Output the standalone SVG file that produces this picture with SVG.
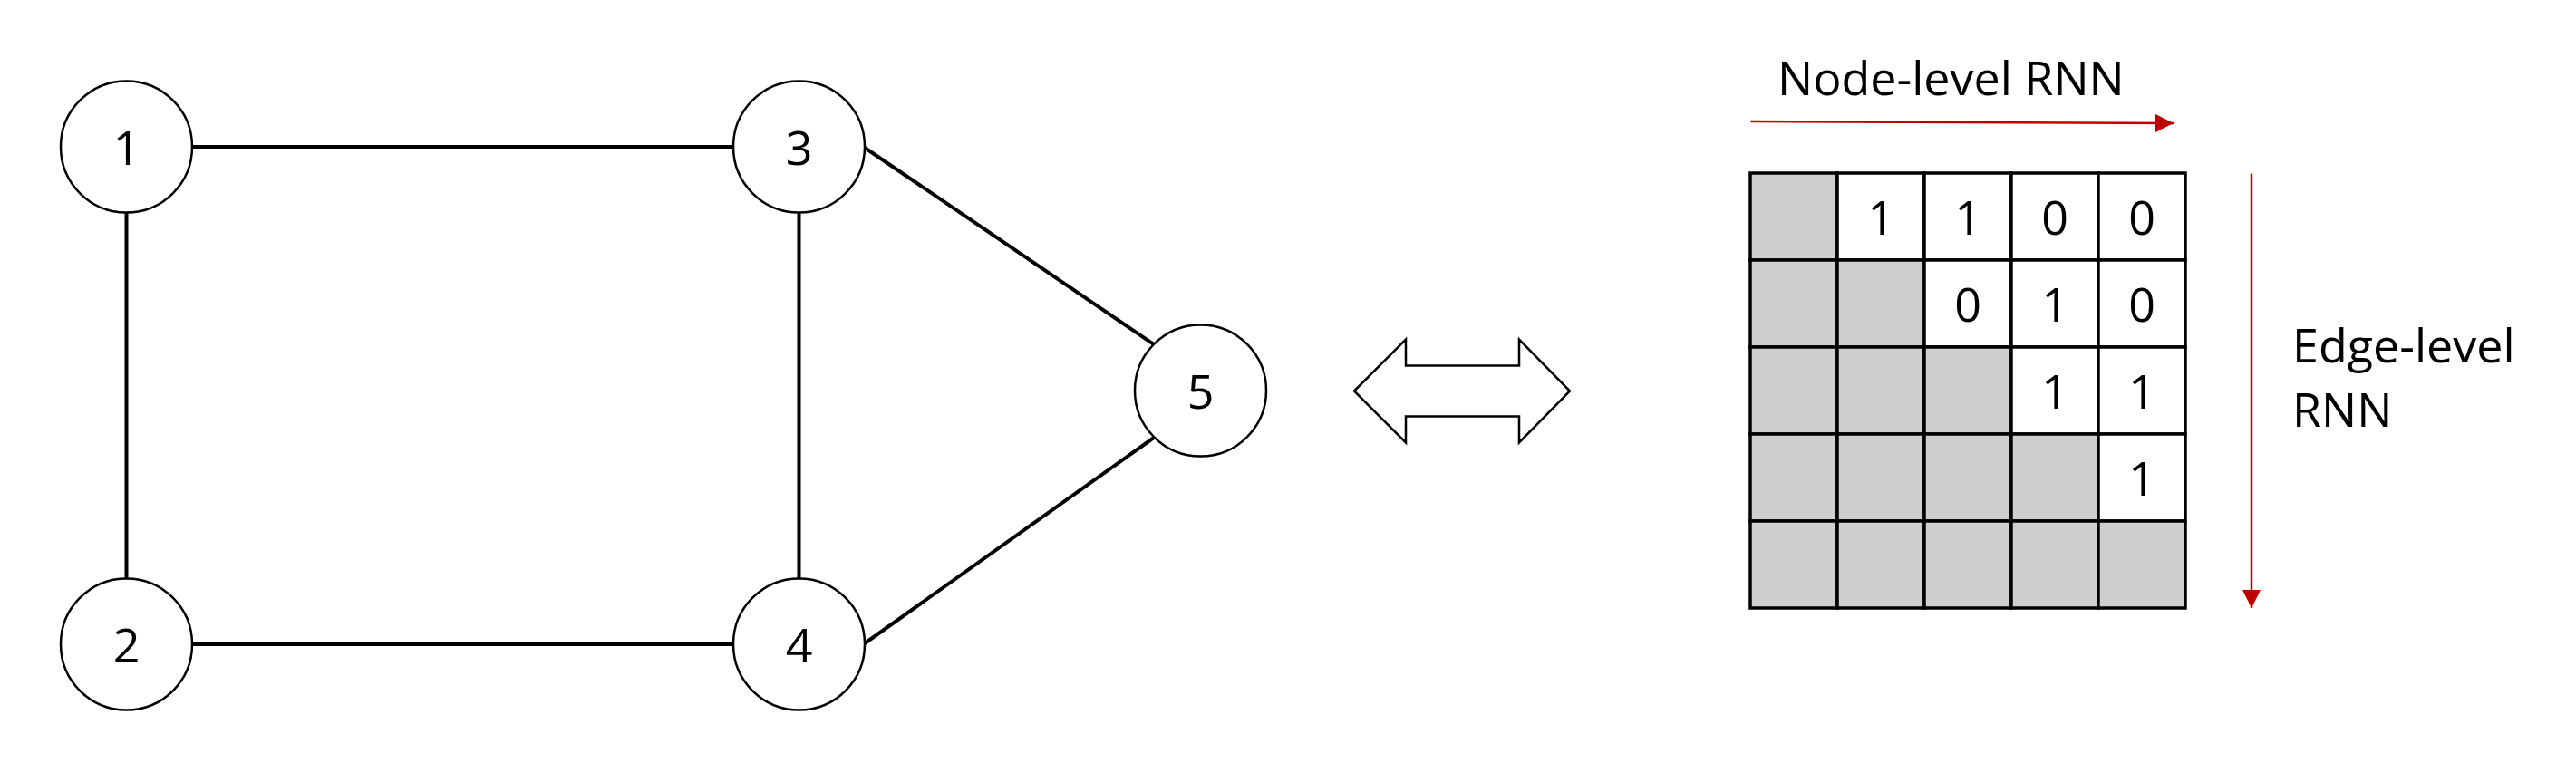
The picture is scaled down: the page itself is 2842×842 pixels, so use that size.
<svg xmlns="http://www.w3.org/2000/svg" width="2842" height="842" viewBox="0 0 2842 842">
<style>
.edge{stroke:#000;stroke-width:4;fill:none}
.node circle{fill:#fff;stroke:#000;stroke-width:2.5}
.lbl{font-family:"Open Sans","Liberation Sans",sans-serif;font-size:52px;fill:#000}
.num{text-anchor:middle}
.cg{fill:#D0CECE;stroke:#000;stroke-width:3.5}
.cw{fill:#fff;stroke:#000;stroke-width:3.5}
.red{stroke:#C00000;stroke-width:2.5;fill:none}
</style>
<defs>
<marker id="ah" markerWidth="20" markerHeight="20" viewBox="0 0 20 20" refX="20" refY="10" orient="auto" markerUnits="userSpaceOnUse">
<path d="M0,0 L20,10 L0,20 z" fill="#C00000"/>
</marker>
</defs>
<rect width="2842" height="842" fill="#fff"/>
<g id="connectors">
<line class="edge" x1="212" y1="162" x2="809" y2="162"/>
<line class="edge" x1="139.5" y1="234" x2="139.5" y2="639"/>
<line class="edge" x1="212" y1="711" x2="809" y2="711"/>
<line class="edge" x1="881.5" y1="234" x2="881.5" y2="639"/>
<line class="edge" x1="954" y1="163" x2="1273" y2="380"/>
<line class="edge" x1="954" y1="710" x2="1273" y2="483"/>
</g>
<g id="node1" class="node"><circle cx="139.5" cy="162" r="72.5"/><text class="lbl num" x="139.5" y="181.5">1</text></g>
<g id="node2" class="node"><circle cx="139.5" cy="711" r="72.5"/><text class="lbl num" x="139.5" y="730.5">2</text></g>
<g id="node3" class="node"><circle cx="881.5" cy="162" r="72.5"/><text class="lbl num" x="881.5" y="181.5">3</text></g>
<g id="node4" class="node"><circle cx="881.5" cy="711" r="72.5"/><text class="lbl num" x="881.5" y="730.5">4</text></g>
<g id="node5" class="node"><circle cx="1324.5" cy="431" r="72.5"/><text class="lbl num" x="1324.5" y="450.5">5</text></g>
<g id="double-arrow">
<polygon points="1494,431.5 1551,374.5 1551,403.5 1676,403.5 1676,374.5 1732,431.5 1676,488.5 1676,459.5 1551,459.5 1551,488.5" fill="#fff" stroke="#000" stroke-width="2.5"/>
</g>
<g id="matrix">
<rect class="cg" x="1931" y="191" width="96" height="96"/>
<rect class="cw" x="2027" y="191" width="96" height="96"/>
<rect class="cw" x="2123" y="191" width="96" height="96"/>
<rect class="cw" x="2219" y="191" width="96" height="96"/>
<rect class="cw" x="2315" y="191" width="96" height="96"/>
<rect class="cg" x="1931" y="287" width="96" height="96"/>
<rect class="cg" x="2027" y="287" width="96" height="96"/>
<rect class="cw" x="2123" y="287" width="96" height="96"/>
<rect class="cw" x="2219" y="287" width="96" height="96"/>
<rect class="cw" x="2315" y="287" width="96" height="96"/>
<rect class="cg" x="1931" y="383" width="96" height="96"/>
<rect class="cg" x="2027" y="383" width="96" height="96"/>
<rect class="cg" x="2123" y="383" width="96" height="96"/>
<rect class="cw" x="2219" y="383" width="96" height="96"/>
<rect class="cw" x="2315" y="383" width="96" height="96"/>
<rect class="cg" x="1931" y="479" width="96" height="96"/>
<rect class="cg" x="2027" y="479" width="96" height="96"/>
<rect class="cg" x="2123" y="479" width="96" height="96"/>
<rect class="cg" x="2219" y="479" width="96" height="96"/>
<rect class="cw" x="2315" y="479" width="96" height="96"/>
<rect class="cg" x="1931" y="575" width="96" height="96"/>
<rect class="cg" x="2027" y="575" width="96" height="96"/>
<rect class="cg" x="2123" y="575" width="96" height="96"/>
<rect class="cg" x="2219" y="575" width="96" height="96"/>
<rect class="cg" x="2315" y="575" width="96" height="96"/>
<text class="lbl num" x="2075" y="259">1</text>
<text class="lbl num" x="2171" y="259">1</text>
<text class="lbl num" x="2267" y="259">0</text>
<text class="lbl num" x="2363" y="259">0</text>
<text class="lbl num" x="2171" y="355">0</text>
<text class="lbl num" x="2267" y="355">1</text>
<text class="lbl num" x="2363" y="355">0</text>
<text class="lbl num" x="2267" y="451">1</text>
<text class="lbl num" x="2363" y="451">1</text>
<text class="lbl num" x="2363" y="547">1</text>
</g>
<g id="node-level-rnn">
<text class="lbl" x="1961" y="104.5">Node-level RNN</text>
<line class="red" x1="1931.5" y1="134" x2="2398" y2="136" marker-end="url(#ah)"/>
</g>
<g id="edge-level-rnn">
<line class="red" x1="2484" y1="191.5" x2="2484" y2="671" marker-end="url(#ah)"/>
<text class="lbl" x="2529" y="400">Edge-level</text>
<text class="lbl" x="2529" y="471">RNN</text>
</g>
</svg>
